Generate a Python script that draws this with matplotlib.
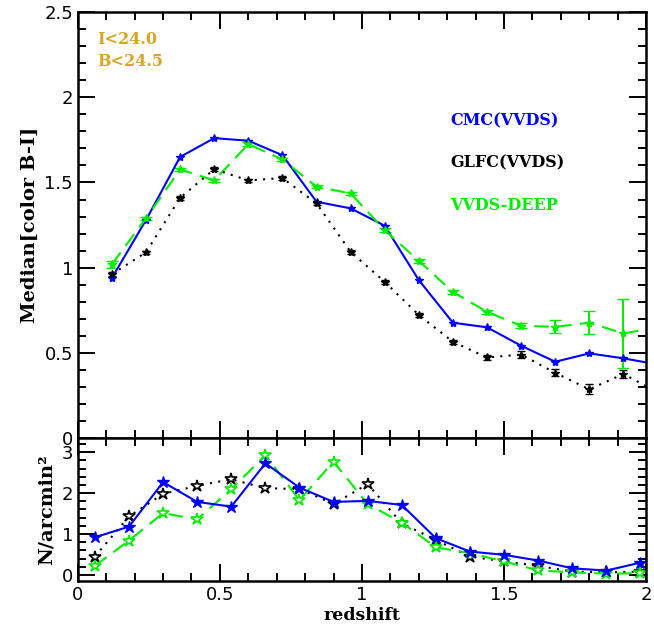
import matplotlib
matplotlib.use("Agg")
import matplotlib.pyplot as plt
import numpy as np
from matplotlib.ticker import MultipleLocator

plt.rcParams["font.family"] = ["DejaVu Sans"]

# top panel: median colour B-I per redshift bin
z_top = [0.12, 0.24, 0.36, 0.48, 0.60, 0.72, 0.84, 0.96, 1.08, 1.20,
         1.32, 1.44, 1.56, 1.68, 1.80, 1.92, 2.04]
cmc_col = [0.94, 1.28, 1.65, 1.76, 1.745, 1.66, 1.387, 1.348, 1.246, 0.927,
           0.677, 0.65, 0.542, 0.448, 0.497, 0.468, 0.432]
glfc_col = [0.962, 1.09, 1.41, 1.578, 1.512, 1.526, 1.377, 1.093, 0.917, 0.722,
            0.565, 0.473, 0.49, 0.383, 0.286, 0.376, 0.27]
glfc_err = [0.01, 0.01, 0.01, 0.01, 0.01, 0.01, 0.01, 0.01, 0.01, 0.01,
            0.01, 0.015, 0.02, 0.02, 0.03, 0.025, 0.03]
deep_col = [1.02, 1.29, 1.577, 1.512, 1.725, 1.635, 1.475, 1.436, 1.22, 1.04,
            0.857, 0.741, 0.659, 0.653, 0.677, 0.614, 0.65]
deep_err = [0.02, 0.01, 0.01, 0.01, 0.01, 0.01, 0.01, 0.01, 0.01, 0.01,
            0.01, 0.01, 0.015, 0.039, 0.067, 0.2, 0.2]

# bottom panel: number density
z_bot = [0.06, 0.18, 0.30, 0.42, 0.54, 0.66, 0.78, 0.90, 1.02, 1.14,
         1.26, 1.38, 1.50, 1.62, 1.74, 1.86, 1.98]
cmc_n = [0.92, 1.18, 2.27, 1.785, 1.67, 2.73, 2.135, 1.785, 1.81, 1.71,
         0.897, 0.57, 0.49, 0.35, 0.16, 0.105, 0.3]
glfc_n = [0.447, 1.43, 1.98, 2.18, 2.34, 2.12, 2.1, 1.735, 2.22, 1.26,
          0.855, 0.447, 0.33, 0.22, 0.08, 0.06, 0.08]
deep_n = [0.22, 0.84, 1.51, 1.36, 2.095, 2.93, 1.83, 2.77, 1.73, 1.28,
          0.675, 0.53, 0.33, 0.11, 0.06, 0.03, 0.04]

BLUE = "#0000ff"
GREEN = "#00ee00"
GOLD = "#DAA520"
SERIF = ["DejaVu Serif"]

fig = plt.figure(figsize=(6.54, 6.34), dpi=100)
ax1 = fig.add_axes([0.119, 0.309, 0.869, 0.672])
ax2 = fig.add_axes([0.119, 0.0836, 0.869, 0.2256])

ax1.errorbar(z_top, deep_col, yerr=deep_err, color=GREEN, ls=(0, (7, 4)), lw=1.5,
             marker="*", ms=6, capsize=4, elinewidth=1.5)
ax1.errorbar(z_top, glfc_col, yerr=glfc_err, color="black", ls=(0, (1, 3)), lw=1.5,
             marker="*", ms=6, capsize=3, elinewidth=1)
ax1.plot(z_top, cmc_col, color=BLUE, ls="-", lw=1.5, marker="*", ms=6)

ax1.set_xlim(0, 2)
ax1.set_ylim(0, 2.5)
ax1.set_ylabel("Median[color B-I]", fontsize=14, fontfamily=SERIF,
               fontweight="bold", labelpad=4)
ax1.set_yticks([0, 0.5, 1, 1.5, 2, 2.5])
ax1.set_yticklabels(["0", "0.5", "1", "1.5", "2", "2.5"])
ax1.yaxis.set_minor_locator(MultipleLocator(0.1))
ax1.xaxis.set_major_locator(MultipleLocator(0.5))
ax1.xaxis.set_minor_locator(MultipleLocator(0.1))
ax1.tick_params(axis="x", labelbottom=False)

txt = dict(transform=ax1.transAxes, fontsize=11.5, fontfamily=SERIF,
           fontweight="bold", va="center")
ax1.text(0.035, 0.935, "I<24.0", color=GOLD, **txt)
ax1.text(0.035, 0.885, "B<24.5", color=GOLD, **txt)
ax1.text(0.655, 0.745, "CMC(VVDS)", color=BLUE, **txt)
ax1.text(0.655, 0.645, "GLFC(VVDS)", color="black", **txt)
ax1.text(0.655, 0.545, "VVDS-DEEP", color=GREEN, **txt)

ax2.plot(z_bot, glfc_n, color="black", ls=(0, (1, 3)), lw=1.5, marker="*", ms=9,
         mfc="white", mec="black", mew=1.2)
ax2.plot(z_bot, deep_n, color=GREEN, ls=(0, (7, 4)), lw=1.5, marker="*", ms=9,
         mfc="white", mec=GREEN, mew=1.2)
ax2.plot(z_bot, cmc_n, color=BLUE, ls="-", lw=1.5, marker="*", ms=9,
         mfc=BLUE, mec=BLUE, mew=1.0)

ax2.set_xlim(0, 2)
ax2.set_ylim(-0.15, 3.35)
ax2.set_yticks([0, 1, 2, 3])
ax2.yaxis.set_minor_locator(MultipleLocator(0.2))
ax2.set_xticks([0, 0.5, 1, 1.5, 2])
ax2.set_xticklabels(["0", "0.5", "1", "1.5", "2"])
ax2.xaxis.set_minor_locator(MultipleLocator(0.1))
ax2.set_xlabel("redshift", fontsize=12.5, fontfamily=SERIF, fontweight="bold",
               labelpad=2)
ax2.set_ylabel("N/arcmin²", fontsize=14, fontfamily=SERIF, fontweight="bold",
               labelpad=4)

for ax in (ax1, ax2):
    for sp in ax.spines.values():
        sp.set_linewidth(1.8)
    ax.tick_params(which="both", direction="in", top=True, right=True,
                   labelsize=13, width=1.4)
    ax.tick_params(which="major", length=12)
    ax.tick_params(which="minor", length=6)

fig.savefig("out.png", dpi=100)
